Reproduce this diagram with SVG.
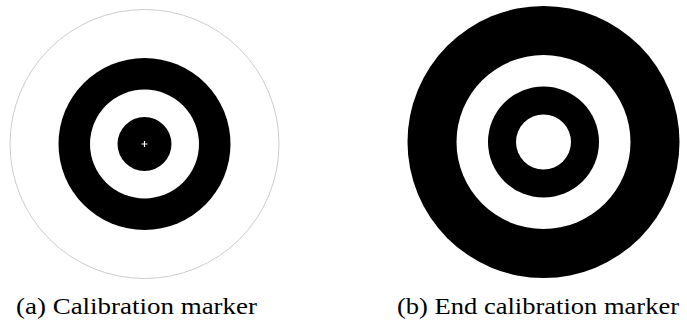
<svg xmlns="http://www.w3.org/2000/svg" width="687" height="325" viewBox="0 0 687 325">
<style>
.blk{fill:#000}
.wht{fill:#fff}
.cap{font-family:"Liberation Serif","DejaVu Serif",serif;font-size:24px;fill:#000}
</style>
<rect width="687" height="325" fill="#fff"/>
<g id="marker-a">
<circle cx="144.5" cy="144" r="134.5" fill="none" stroke="#cccccc" stroke-width="1"/>
<circle class="blk" cx="144.5" cy="144" r="86"/>
<circle class="wht" cx="144.5" cy="144" r="54.5"/>
<circle class="blk" cx="144.5" cy="144" r="27"/>
<path d="M141.5 144H147.5M144.5 141V147" stroke="#fff" stroke-width="1.2"/>
</g>
<g id="marker-b">
<circle class="blk" cx="543.5" cy="142" r="136"/>
<circle class="wht" cx="543.5" cy="142" r="87"/>
<circle class="blk" cx="543.5" cy="142" r="55.5"/>
<circle class="wht" cx="543.5" cy="142" r="27.5"/>
</g>
<g id="captions">
<text class="cap" x="16" y="314" textLength="241" lengthAdjust="spacingAndGlyphs">(a) Calibration marker</text>
<text class="cap" x="397" y="314" textLength="282" lengthAdjust="spacingAndGlyphs">(b) End calibration marker</text>
</g>
</svg>
